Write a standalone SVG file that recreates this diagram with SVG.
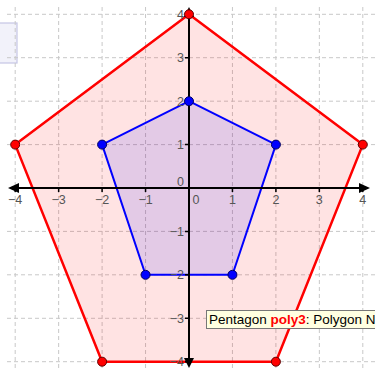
<svg xmlns="http://www.w3.org/2000/svg" width="375" height="371" viewBox="0 0 375 371">
<style>
.grid{stroke:#c8c8c8;stroke-width:1;stroke-dasharray:4,3;fill:none}
.axis{stroke:#000;stroke-width:2;fill:none}
.tick{stroke:#000;stroke-width:1.5}
.lbl{font-family:"Liberation Sans",Arial,sans-serif;font-size:12.5px;fill:#555}
.xl{text-anchor:middle}
.yl{text-anchor:end}
.outer{fill:#ff0000;fill-opacity:0.11;stroke:#ff0000;stroke-width:2.5;stroke-linejoin:round}
.inner{fill:#0000ff;fill-opacity:0.11;stroke:#0000ff;stroke-width:2;stroke-linejoin:round}
.rp{fill:#ff0000;stroke:#600000;stroke-width:1}
.bp{fill:#0000ff;stroke:#000060;stroke-width:1}
.tip{font-family:"Liberation Sans",Arial,sans-serif;font-size:13.5px;fill:#000}
</style>
<rect width="375" height="371" fill="#fff"/>
<rect x="-1" y="23" width="18" height="40" fill="#f2f2fa" stroke="#c5c5e5" stroke-width="1.2"/>
<g id="grid">
<path class="grid" d="M15.2 7V371M58.65 7V371M102.1 7V371M145.55 7V371M232.45 7V371M275.9 7V371M319.35 7V371M362.8 7V371"/>
<path class="grid" d="M7 14.3H375M7 57.7H375M7 101.2H375M7 144.6H375M7 231.4H375M7 274.8H375M7 318.3H375M7 361.7H375"/>
</g>
<g id="outer-pentagon">
<polygon class="outer" points="189,14.3 362.8,144.6 275.9,361.7 102.1,361.7 15.2,144.6"/>
</g>
<g id="inner-pentagon">
<polygon class="inner" points="189,101.2 275.9,144.6 232.45,274.8 145.55,274.8 102.1,144.6"/>
</g>
<g id="axes">
<path class="axis" d="M14 188H360M189 15V358"/>
<polygon points="8,188 19,183 19,193" fill="#000"/>
<polygon points="370,188 359,183 359,193" fill="#000"/>
<polygon points="189,7 184,17 194,17" fill="#000"/>
<polygon points="189,368 184,358 194,358" fill="#000"/>
<path class="tick" d="M15.2 188v4M58.65 188v4M102.1 188v4M145.55 188v4M232.45 188v4M275.9 188v4M319.35 188v4M362.8 188v4"/>
<path class="tick" d="M189 14.3h-4M189 57.7h-4M189 101.2h-4M189 144.6h-4M189 231.4h-4M189 274.8h-4M189 318.3h-4M189 361.7h-4"/>
</g>
<g id="labels" class="lbl">
<text class="xl" x="15.2" y="204">−4</text>
<text class="xl" x="58.65" y="204">−3</text>
<text class="xl" x="102.1" y="204">−2</text>
<text class="xl" x="145.55" y="204">−1</text>
<text class="xl" x="196" y="204">0</text>
<text class="xl" x="232.45" y="204">1</text>
<text class="xl" x="275.9" y="204">2</text>
<text class="xl" x="319.35" y="204">3</text>
<text class="xl" x="362.8" y="204">4</text>
<text class="yl" x="184" y="18.6">4</text>
<text class="yl" x="184" y="62">3</text>
<text class="yl" x="184" y="105.5">2</text>
<text class="yl" x="184" y="148.9">1</text>
<text class="yl" x="184" y="186">0</text>
<text class="yl" x="184" y="235.7">−1</text>
<text class="yl" x="184" y="279.1">−2</text>
<text class="yl" x="184" y="322.6">−3</text>
<text class="yl" x="184" y="366">−4</text>
</g>
<g id="points">
<circle class="rp" cx="189" cy="14.3" r="4.5"/>
<circle class="rp" cx="362.8" cy="144.6" r="4.5"/>
<circle class="rp" cx="275.9" cy="361.7" r="4.5"/>
<circle class="rp" cx="102.1" cy="361.7" r="4.5"/>
<circle class="rp" cx="15.2" cy="144.6" r="4.5"/>
<circle class="bp" cx="189" cy="101.2" r="4.5"/>
<circle class="bp" cx="275.9" cy="144.6" r="4.5"/>
<circle class="bp" cx="232.45" cy="274.8" r="4.5"/>
<circle class="bp" cx="145.55" cy="274.8" r="4.5"/>
<circle class="bp" cx="102.1" cy="144.6" r="4.5"/>
</g>
<g id="tooltip">
<rect x="206.5" y="310.5" width="175" height="18" fill="#ffffe1" stroke="#777" stroke-width="1"/>
<text class="tip" x="209" y="324">Pentagon <tspan fill="#ff0000" font-weight="bold">poly3</tspan>: Polygon N</text>
</g>
</svg>
